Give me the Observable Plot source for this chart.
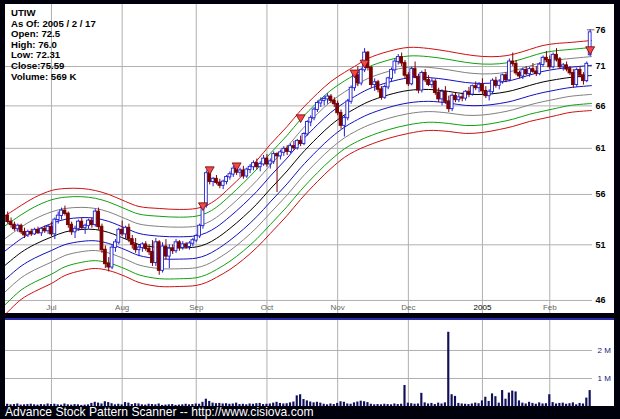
<!DOCTYPE html>
<html><head><meta charset="utf-8">
<script src="https://cdn.jsdelivr.net/npm/d3@7"></script>
<script src="https://cdn.jsdelivr.net/npm/@observablehq/plot@0.6"></script>
<style>
html,body{margin:0;padding:0;background:#00000c;}
#wrap{position:relative;width:620px;height:419px;background:#00000c;overflow:hidden;font-family:"Liberation Sans",Arial,sans-serif;}
#main{position:absolute;left:5px;top:4px;}
#sep{position:absolute;left:5px;top:318px;width:609px;height:2px;background:#2a2aa8;}
#vol{position:absolute;left:5px;top:320px;}
#info{position:absolute;left:11px;top:8px;font-size:9.6px;font-weight:bold;line-height:10.6px;color:#000;}
#foot{position:absolute;left:5px;top:405px;color:#fff;font-size:12.1px;line-height:14px;white-space:nowrap;}
</style></head><body>
<div id="wrap">
<div id="main"></div><div id="sep"></div><div id="vol"></div>
<div id="info">UTIW<br>As Of: 2005 / 2 / 17<br>Open: 72.5<br>High: 76.0<br>Low: 72.31<br>Close:75.59<br>Volume: 569 K</div>
<div id="foot">Advance Stock Pattern Scanner -- http://www.cisiova.com</div>
</div>
<script>
// ---- data (trading-day index 0 = 2004-06-14 ... 173 = 2005-02-17) ----
const monthLabels = ["Jul","Aug","Sep","Oct","Nov","Dec","2005","Feb"];
const monthIdx = [13,34,56,77,98,119,141,161];
const priceTicks = [46,51,56,61,66,71,76];
const gridTicks = [46,51,56,61,66,71];
const volTicks = [1e6,2e6];
const volTickLabels = ["1 M","2 M"];

const open = [53.8,53.2,52.9,52.5,52.8,52.2,51.9,52.2,52.0,52.4,52.1,52.5,52.3,
52.7,52.0,53.4,53.8,54.3,54.0,52.9,52.2,52.5,53.2,52.6,52.8,53.3,52.9,54.2,52.7,50.5,49.2,48.9,50.7,51.2,
52.4,52.0,52.6,51.5,51.0,50.5,50.7,51.0,50.6,50.3,49.3,51.2,48.6,50.8,49.9,50.6,50.4,51.2,50.7,51.0,50.8,51.1,
51.4,51.8,52.8,54.8,58.2,57.3,57.6,57.2,56.9,57.3,57.8,58.1,58.7,58.3,58.5,57.9,58.6,58.9,59.3,58.9,59.2,
59.8,59.2,59.5,60.3,60.1,60.5,60.9,60.6,61.2,61.0,61.8,61.5,62.6,64.0,64.5,65.5,66.3,66.6,66.8,67.1,66.6,
66.2,65.1,63.6,64.5,66.5,68.2,69.8,68.8,70.5,72.8,70.8,68.6,68.9,68.0,67.0,68.3,69.4,70.5,71.6,72.2,71.4,
69.8,68.7,70.6,69.6,67.9,70.1,69.2,68.6,69.0,67.6,66.8,67.7,66.5,65.6,67.2,66.7,67.0,66.9,67.7,67.4,68.4,68.2,
68.6,67.8,67.2,67.7,69.1,68.5,69.0,69.8,69.2,71.6,71.3,70.1,69.7,70.5,70.0,70.6,70.3,70.0,71.2,72.1,
71.8,70.9,72.5,71.9,70.9,71.1,70.6,70.1,68.6,70.5,69.8,69.1,72.5];
const high = [54.2,53.6,53.2,53.0,53.0,52.6,52.4,52.5,52.6,52.7,52.6,52.8,52.9,
53.2,53.6,54.2,54.6,54.8,54.2,53.2,52.8,53.4,53.6,53.0,53.5,53.6,54.5,54.6,53.0,50.9,49.8,51.0,51.5,52.6,
53.3,52.8,53.0,51.9,51.6,51.0,51.2,51.3,51.0,51.4,51.6,51.4,51.2,51.5,51.0,51.0,51.5,51.4,51.3,51.2,51.3,51.6,
52.0,53.0,55.0,58.5,58.6,57.8,58.0,57.6,57.5,58.0,58.4,59.0,59.2,58.8,59.0,58.8,59.2,59.6,59.8,59.5,60.2,
60.3,59.8,60.6,60.5,60.8,61.2,61.3,61.5,61.8,62.0,62.4,62.8,64.2,64.8,65.8,66.6,67.0,67.2,67.5,67.4,67.0,
66.6,65.5,64.8,66.8,68.5,70.2,71.0,70.8,73.4,73.0,71.0,69.4,69.2,68.4,68.6,69.6,70.8,72.0,72.6,72.8,71.8,
70.2,70.9,71.6,70.0,70.4,70.6,69.8,69.4,69.3,68.2,68.0,68.4,67.2,67.5,67.6,67.4,67.6,67.9,68.3,68.6,69.0,68.9,
69.4,68.4,68.0,69.4,69.6,69.3,70.0,70.2,72.0,72.8,71.8,70.4,70.8,71.0,70.9,71.4,71.0,71.5,72.4,73.0,
72.4,72.8,73.4,72.2,71.4,71.6,71.0,70.6,70.8,70.9,70.2,71.6,76.0];
const low = [53.0,52.6,52.3,52.2,52.0,51.6,51.7,51.8,51.9,52.0,51.8,52.1,52.0,
51.8,51.5,53.0,53.4,53.8,52.6,51.9,51.6,52.3,52.4,52.0,52.5,52.6,52.7,52.4,50.2,48.8,48.5,48.7,50.3,51.0,
51.8,51.5,51.2,50.6,50.2,49.9,50.3,50.4,50.0,49.0,49.0,48.2,48.4,49.6,48.8,50.1,50.2,50.4,50.5,50.6,50.5,50.8,
51.2,51.6,52.5,54.6,57.0,56.8,57.0,56.6,56.5,57.0,57.5,57.8,58.0,57.8,57.6,57.7,58.2,58.5,58.6,58.4,59.0,
58.9,58.7,59.2,56.2,59.7,60.1,60.2,60.4,60.8,60.8,61.2,61.3,62.4,63.5,64.2,65.2,65.8,66.0,66.2,66.3,65.8,
64.8,63.2,62.3,64.2,66.2,67.8,68.4,68.5,70.2,70.4,68.2,67.8,67.6,66.7,66.8,68.0,69.0,70.0,71.2,71.0,69.4,
68.4,68.5,69.4,67.5,67.6,68.9,68.4,68.2,67.3,66.4,66.0,66.2,65.2,65.3,66.4,66.4,66.5,66.6,67.0,67.2,67.9,67.6,
67.4,66.9,66.6,67.4,68.2,68.0,68.7,68.9,69.0,71.0,69.8,69.4,69.3,69.8,69.6,70.1,69.7,69.8,70.9,71.5,
70.6,70.7,71.6,70.6,70.4,70.3,69.8,68.2,68.3,69.5,68.6,68.9,72.31];
const close = [53.2,52.9,52.5,52.8,52.2,51.9,52.2,52.0,52.4,52.1,52.5,52.3,52.7,
52.0,53.4,53.8,54.3,54.0,52.9,52.2,52.5,53.2,52.6,52.8,53.3,52.9,54.2,52.7,50.5,49.2,48.9,50.7,51.2,52.4,
52.0,52.6,51.5,51.0,50.5,50.7,51.0,50.6,50.3,49.3,51.2,48.6,50.8,49.9,50.6,50.4,51.2,50.7,51.0,50.8,51.1,51.4,
51.8,52.8,54.8,58.2,57.3,57.6,57.2,56.9,57.3,57.8,58.1,58.7,58.3,58.5,57.9,58.6,58.9,59.3,58.9,59.2,59.8,
59.2,59.5,60.3,60.1,60.5,60.9,60.6,61.2,61.0,61.8,61.5,62.6,64.0,64.5,65.5,66.3,66.6,66.8,67.1,66.6,66.2,
65.1,63.6,64.5,66.5,68.2,69.8,68.8,70.5,72.8,70.8,68.6,68.9,68.0,67.0,68.3,69.4,70.5,71.6,72.2,71.4,69.8,
68.7,70.6,69.6,67.9,70.1,69.2,68.6,69.0,67.6,66.8,67.7,66.5,65.6,67.2,66.7,67.0,66.9,67.7,67.4,68.4,68.2,68.6,
67.8,67.2,67.7,69.1,68.5,69.0,69.8,69.2,71.6,71.3,70.1,69.7,70.5,70.0,70.6,70.3,70.0,71.2,72.1,71.8,
70.9,72.5,71.9,70.9,71.1,70.6,70.1,68.6,70.5,69.8,69.1,71.3,75.59];
// volume in thousands of shares
const volume = [80,60,70,90,50,60,70,80,60,50,70,60,90,
70,80,60,50,90,60,50,70,60,40,50,60,110,150,120,90,170,140,100,60,80,
60,140,120,70,100,90,60,50,80,70,60,90,40,50,60,70,40,50,60,80,60,70,
90,80,150,260,180,120,100,110,90,100,80,90,120,70,80,60,90,80,100,110,70,
80,90,120,150,110,90,100,130,160,380,420,250,200,160,130,150,120,80,60,90,70,
110,170,150,90,80,130,160,190,170,140,80,60,70,60,80,70,60,90,70,80,750,
120,100,80,90,470,130,90,110,70,120,90,130,2650,420,360,110,90,80,70,90,120,100,
200,330,180,450,350,120,570,260,480,550,520,200,120,90,150,110,80,130,90,100,
420,140,90,110,120,80,100,130,60,110,90,300,569];
// envelope: outer red lines read at sample days; inner lines sit at fixed fractions between them
const bandIdx = [-1,4,8,13,17,22,26,30,35,39,45,51,56,59,62,66,70,74,78,83,87,92,96,100,103,107,113,119,125,131,136,141,146,150,155,159,163,167,173.5];
const upperRed = [53.76,54.87,55.69,56.41,56.62,56.62,56.41,56.00,55.27,54.76,54.56,54.46,54.56,54.87,55.48,56.73,58.12,59.64,61.44,63.53,65.44,67.54,69.06,70.22,71.01,72.07,73.01,73.56,73.42,73.01,72.61,72.34,72.34,72.61,73.28,73.83,74.10,74.24,74.52];
const lowerRed = [44.74,46.09,46.77,47.47,48.18,48.63,48.81,48.63,48.09,47.56,47.21,47.21,47.30,47.56,48.01,48.72,49.64,50.75,52.09,53.86,55.48,57.36,58.76,59.98,60.65,61.33,62.13,62.71,63.06,62.94,62.71,62.82,63.17,63.53,64.12,64.48,64.84,65.20,65.44];
const bandFrac = [1,0.8,0.54,0.29,0,-0.29,-0.54,-0.8,-1];
const bandColors = ["#cc1010","#10a010","#808080","#1010c0","#000000","#1010c0","#808080","#10a010","#cc1010"];
// breakout markers: day and price of the down-pointing triangles
const signalIdx = [58,60,68,87,103,106,173];
const signalPrice = [54.87,58.66,59.09,64.6,70.2,71.5,73.3];

// ---- build ----
const upC = "#2020d0", dnC = "#7a0000";
const candles = open.map((o,i)=>({i,o,h:high[i],l:low[i],c:close[i],up:close[i]>=o}));
const bands = [];
bandFrac.forEach((f,k)=>bandIdx.forEach((x,j)=>{
  const lu=Math.log(upperRed[j]), ll=Math.log(lowerRed[j]);
  bands.push({i:x,p:Math.exp((lu+ll)/2+f*(lu-ll)/2),k,col:bandColors[k]});
}));
const signals = signalIdx.map((i,j)=>({i,p:signalPrice[j]}));
const xDomain = [-0.653,173.69];
const font = "Liberation Sans, Arial, sans-serif";

const main = Plot.plot({
  width:609,height:309,marginLeft:0,marginRight:22,marginTop:0,marginBottom:0,
  style:{background:"white",fontFamily:font,overflow:"visible"},
  x:{domain:xDomain,axis:null},
  y:{type:"log",domain:[44.90,79.66],axis:null},
  color:{type:"identity"},
  marks:[
    Plot.gridY(gridTicks,{stroke:"#b0b0b0",strokeOpacity:1}),
    Plot.ruleY([76],{x1:172.2,x2:174.4,stroke:"#666"}),
    Plot.gridX(monthIdx,{stroke:"#b0b0b0",strokeOpacity:1}),
    Plot.line(bands,{x:"i",y:"p",z:"k",stroke:"col",curve:"catmull-rom",strokeWidth:1,clip:true}),
    Plot.ruleX(candles,{x:"i",y1:"l",y2:"h",stroke:d=>d.up?upC:dnC,strokeWidth:1}),
    Plot.rect(candles,{x1:d=>d.i-0.42,x2:d=>d.i+0.42,y1:d=>Math.min(d.o,d.c),y2:d=>Math.max(d.o,d.c)*1.0008,
      fill:d=>d.up?"white":dnC,stroke:d=>d.up?upC:dnC,strokeWidth:0.9}),
    Plot.dot(signals,{x:"i",y:"p",symbol:"triangle",rotate:180,r:3.3,fill:"#f04848",stroke:"#700000",strokeWidth:0.8}),
    Plot.text(priceTicks,{y:d=>d,text:d=>String(d),frameAnchor:"right",textAnchor:"start",dx:3,fontSize:9,fontWeight:"bold",fill:"#000"}),
    Plot.text(monthIdx,{x:d=>d,text:(d,i)=>monthLabels[i],frameAnchor:"bottom",dy:-4,fontSize:8,
      fill:(d,i)=>monthLabels[i]==="2005"?"#000":"#666",fontWeight:(d,i)=>monthLabels[i]==="2005"?"bold":"normal"})
  ]
});
document.getElementById("main").append(main);

const vol = Plot.plot({
  width:609,height:86,marginLeft:0,marginRight:22,marginTop:0,marginBottom:0,
  style:{background:"white",fontFamily:font,overflow:"visible"},
  x:{domain:xDomain,axis:null},
  y:{domain:[0,3.07e6],axis:null},
  marks:[
    Plot.gridY(volTicks,{stroke:"#b0b0b0",strokeOpacity:1}),
    Plot.gridX(monthIdx,{stroke:"#b0b0b0",strokeOpacity:1}),
    Plot.rect(volume,{x1:(d,i)=>i-0.32,x2:(d,i)=>i+0.32,y1:0,y2:d=>d*1000,fill:"#10105a"}),
    Plot.text(volTicks,{y:d=>d,text:(d,i)=>volTickLabels[i],frameAnchor:"right",textAnchor:"start",dx:5,fontSize:8,fill:"#202080"})
  ]
});
document.getElementById("vol").append(vol);
</script>
</body></html>
